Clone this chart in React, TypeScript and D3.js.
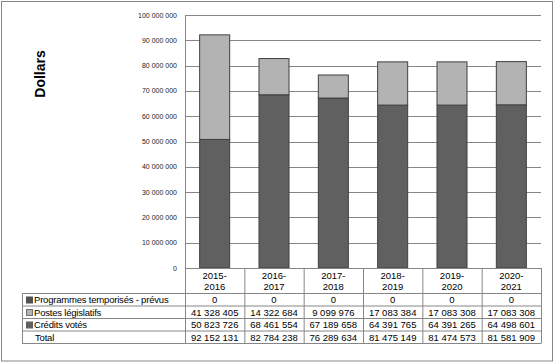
import React from 'react';
import * as d3 from 'd3';

const years = ['2015-2016', '2016-2017', '2017-2018', '2018-2019', '2019-2020', '2020-2021'];
const programmes = [0, 0, 0, 0, 0, 0];
const postes = [41328405, 14322684, 9099976, 17083384, 17083308, 17083308];
const credits = [50823726, 68461554, 67189658, 64391765, 64391265, 64498601];
const totals = [92152131, 82784238, 76289634, 81475149, 81474573, 81581909];
const yTicks = [0, 10000000, 20000000, 30000000, 40000000, 50000000, 60000000, 70000000, 80000000, 90000000, 100000000];

const FONT = 'Arial, "Liberation Sans", sans-serif';
const GRID = '#868686';
const DARK = '#606060';
const LIGHT = '#b3b3b3';

// espace comme séparateur de milliers
const fmt = (v: number) => d3.format(',')(v).replace(/,/g, ' ');

const App = () => {
  const width = 556;
  const height = 364;
  const left = 185;
  const right = 541;
  const top = 15;
  const bottom = 268;

  const x = d3.scaleBand().domain(years).range([left, right]).padding(0);
  const y = d3.scaleLinear().domain([0, 100000000]).range([bottom, top]);
  const barW = x.bandwidth() * 0.506;

  const stack = d3.stack<any>().keys(['credits', 'postes', 'programmes'])(
    years.map((yr, i) => ({ year: yr, credits: credits[i], postes: postes[i], programmes: programmes[i] }))
  );
  const fills = [DARK, LIGHT, '#404040'];

  // table
  const tableLeft = 22;
  const headTop = bottom;
  const rowTop = 293.5;
  const rowH = 12.5;
  const rows = [
    { label: 'Programmes temporisés - prévus', values: programmes, swatch: '#505050', swStroke: '#505050' },
    { label: 'Postes législatifs', values: postes, swatch: LIGHT, swStroke: '#707070' },
    { label: 'Crédits votés', values: credits, swatch: DARK, swStroke: DARK },
    { label: 'Total', values: totals, swatch: null, swStroke: null },
  ];
  const tableBottom = rowTop + rows.length * rowH;

  return (
    <svg width={width} height={height} style={{ position: 'absolute', left: 0, top: 0, background: '#fff' }}>
      <rect x={1.5} y={1.5} width={551} height={359.5} fill="#fff" stroke={GRID} strokeWidth={1} />

      <text
        transform={`translate(45,74) rotate(-90)`}
        textAnchor="middle"
        fontFamily={FONT}
        fontWeight="bold"
        fontSize={14}
        fill="#000"
      >
        Dollars
      </text>

      {/* gridlines + tick labels */}
      {yTicks.map(t => (
        <g key={t}>
          {t > 0 && <line x1={left} x2={right} y1={Math.round(y(t)) + 0.5} y2={Math.round(y(t)) + 0.5} stroke={GRID} />}
          <text x={177} y={y(t) + 2.5} textAnchor="end" fontFamily={FONT} fontSize={7} fill="#222">
            {fmt(t)}
          </text>
        </g>
      ))}

      {/* bars */}
      {stack.map((s, si) =>
        s.map((d, i) =>
          d[1] - d[0] > 0 ? (
            <rect
              key={si + '-' + i}
              x={x(years[i])! + (x.bandwidth() - barW) / 2}
              y={y(d[1])}
              width={barW}
              height={y(d[0]) - y(d[1])}
              fill={fills[si]}
              stroke="#404040"
              strokeWidth={1}
            />
          ) : null
        )
      )}

      {/* axes */}
      <line x1={left + 0.5} x2={left + 0.5} y1={top} y2={tableBottom} stroke={GRID} />
      <line x1={left} x2={right} y1={bottom + 0.5} y2={bottom + 0.5} stroke={GRID} />

      {/* table */}
      {years.map((yr, i) => {
        const cx = x(yr)! + x.bandwidth() / 2;
        const [a, b] = yr.split('-');
        return (
          <g key={yr}>
            <line x1={x(yr)! + x.bandwidth() + 0.5} x2={x(yr)! + x.bandwidth() + 0.5} y1={headTop} y2={tableBottom} stroke={GRID} />
            <text x={cx} y={headTop + 11} textAnchor="middle" fontFamily={FONT} fontSize={9.5} fill="#000">
              {a + '-'}
            </text>
            <text x={cx} y={headTop + 21.5} textAnchor="middle" fontFamily={FONT} fontSize={9.5} fill="#000">
              {b}
            </text>
          </g>
        );
      })}
      <line x1={tableLeft + 0.5} x2={tableLeft + 0.5} y1={rowTop} y2={tableBottom} stroke={GRID} />
      {rows.map((r, ri) => {
        const ry = rowTop + ri * rowH;
        return (
          <g key={r.label}>
            <line x1={tableLeft} x2={right} y1={ry} y2={ry} stroke={GRID} />
            {r.swatch && (
              <rect x={26.5} y={ry + 3.5} width={6} height={6} fill={r.swatch} stroke={r.swStroke!} strokeWidth={1} />
            )}
            <text x={r.swatch ? 34 : 35} y={ry + 9.5} fontFamily={FONT} fontSize={9.5} fill="#000" letterSpacing={-0.2}>
              {r.label}
            </text>
            {r.values.map((v, i) => (
              <text
                key={i}
                x={x(years[i])! + x.bandwidth() / 2}
                y={ry + 9.5}
                textAnchor="middle"
                fontFamily={FONT}
                fontSize={9.5}
                fill="#000"
              >
                {fmt(v)}
              </text>
            ))}
          </g>
        );
      })}
      <line x1={tableLeft} x2={right} y1={tableBottom} y2={tableBottom} stroke={GRID} />
    </svg>
  );
};

export default App;
